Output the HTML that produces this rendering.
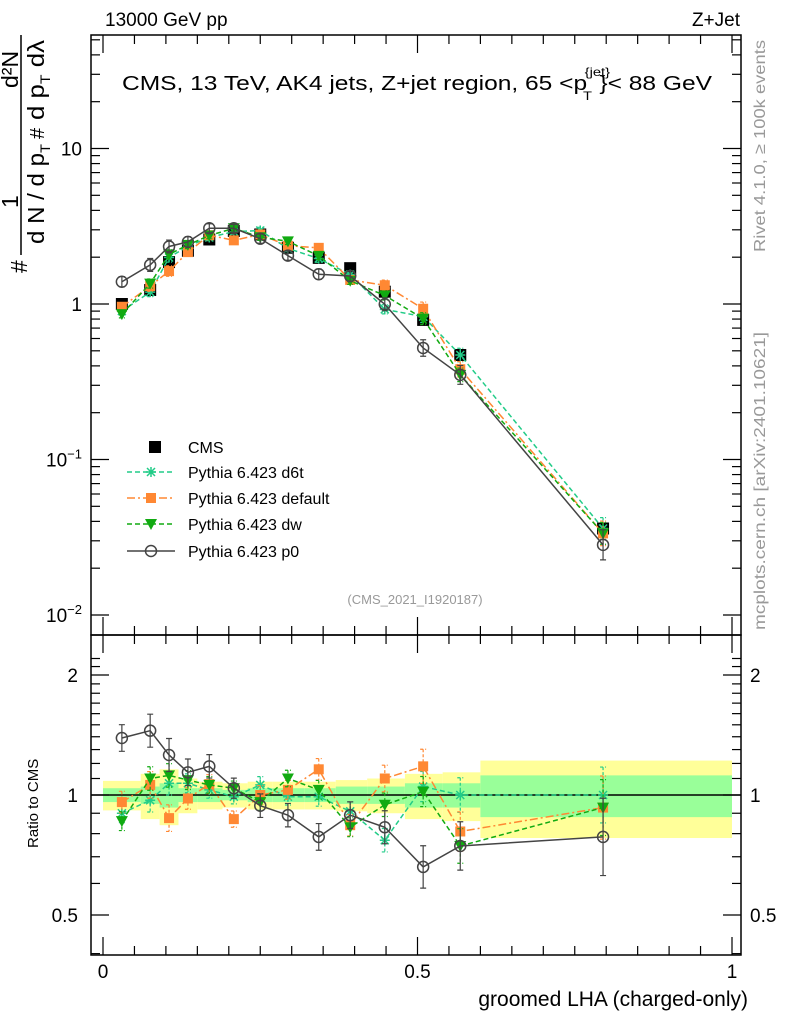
<!DOCTYPE html>
<html><head><meta charset="utf-8"><style>
body{margin:0;background:#fff;}
svg{display:block;font-family:"Liberation Sans",sans-serif;}
</style></head><body>
<svg id="chart" width="786" height="1024" viewBox="0 0 786 1024" xmlns="http://www.w3.org/2000/svg">
<g id="bands"></g>
<g id="grid"></g>
<g id="series"></g>
<g id="axes"></g>
<g id="labels">
<text x="105" y="26" font-size="19">13000 GeV pp</text>
<text x="740" y="26" font-size="19" text-anchor="end">Z+Jet</text>
<text x="122" y="90" font-size="20" textLength="590" lengthAdjust="spacingAndGlyphs">CMS, 13 TeV, AK4 jets, Z+jet region, 65 &lt;p<tspan font-size="12" dy="-14" dx="-2">{jet}</tspan><tspan font-size="12" dy="24" dx="-22">T</tspan><tspan dy="-10" dx="6">}&lt; 88 GeV</tspan></text>
<text x="415" y="604" font-size="13" fill="#999" text-anchor="middle">(CMS_2021_I1920187)</text>
<text transform="translate(765,252) rotate(-90)" font-size="16" fill="#999" textLength="212" lengthAdjust="spacingAndGlyphs">Rivet 4.1.0, ≥ 100k events</text>
<text transform="translate(765,630) rotate(-90)" font-size="16" fill="#999" textLength="298" lengthAdjust="spacingAndGlyphs">mcplots.cern.ch [arXiv:2401.10621]</text>
<g font-size="23">
<line x1="21" y1="255" x2="21" y2="35" stroke="#000" stroke-width="1.5"/>
<text transform="translate(27,273) rotate(-90)">#</text>
<text transform="translate(18,208) rotate(-90)">1</text>
<text transform="translate(44,244) rotate(-90)" textLength="100" lengthAdjust="spacingAndGlyphs">d N / d p<tspan font-size="14" dy="6">T</tspan></text>
<text transform="translate(44,139) rotate(-90)" font-size="20">#</text>
<text transform="translate(18,88) rotate(-90)">d²N</text>
<text transform="translate(44,120) rotate(-90)" textLength="80" lengthAdjust="spacingAndGlyphs">d p<tspan font-size="14" dy="6">T</tspan><tspan dy="-6"> dλ</tspan></text>
</g>
<text transform="translate(38,848) rotate(-90)" font-size="15">Ratio to CMS</text>
<text x="748" y="1006" font-size="21" text-anchor="end">groomed LHA (charged-only)</text>
</g>
<g id="legend"></g>
</svg>
<script>
const xEdges=[0,0.06,0.09,0.12,0.15,0.19,0.23,0.27,0.32,0.37,0.42,0.48,0.54,0.6,1.0];
const xMid=[0.03,0.075,0.105,0.135,0.169,0.208,0.25,0.294,0.343,0.393,0.448,0.509,0.568,0.795];
const cmsVals=[1.0,1.23,1.86,2.2,2.6,2.95,2.8,2.3,1.98,1.7,1.2,0.79,0.47,0.036];
const yellowErr=[0.085,0.13,0.16,0.1,0.08,0.07,0.08,0.08,0.08,0.09,0.1,0.13,0.14,0.22];
const greenErr=[0.04,0.05,0.07,0.04,0.04,0.03,0.04,0.04,0.04,0.05,0.05,0.07,0.07,0.12];
const ratioD6t=[0.9,0.97,1.07,1.07,1.03,0.99,1.06,0.99,0.99,0.91,0.77,1.05,1.0,1.0];
const ratioDefault=[0.96,1.06,0.875,0.98,1.065,0.87,1.0,1.03,1.16,0.84,1.1,1.18,0.81,0.93];
const ratioDw=[0.86,1.1,1.12,1.09,1.06,1.04,0.96,1.1,1.03,0.83,0.945,1.02,0.745,0.93];
const ratioP0=[1.39,1.45,1.26,1.14,1.18,1.04,0.94,0.89,0.785,0.89,0.83,0.66,0.745,0.785];
const relErr=[0.08,0.1,0.1,0.08,0.07,0.06,0.07,0.07,0.08,0.08,0.1,0.13,0.15,0.25];
const yTickLabels=["10","1","10⁻¹","10⁻²"];
const rTickLabels=["2","1","0.5"];
const xTickLabels=["0","0.5","1"];

const NS="http://www.w3.org/2000/svg";
const L=91,R=741,T=35,B=635,RB=955;
const X=v=>103+v*629;
const Y=v=>304-Math.log10(v)*155.5;
const RY=v=>795-Math.log2(v)*120;
function mk(tag,at,parent){const e=document.createElementNS(NS,tag);for(const k in at)e.setAttribute(k,at[k]);parent.appendChild(e);return e;}
const gB=document.getElementById('bands'),gS=document.getElementById('series'),gA=document.getElementById('axes'),gL=document.getElementById('legend');

for(let i=0;i<xMid.length;i++){
  const x0=X(xEdges[i]),x1=X(xEdges[i+1]);
  const y=mk('rect',{x:x0,y:RY(1+yellowErr[i]),width:x1-x0,height:RY(1-yellowErr[i])-RY(1+yellowErr[i]),fill:'#ffff99'},gB);
  
  
  const g=mk('rect',{x:x0,y:RY(1+greenErr[i]),width:x1-x0,height:RY(1-greenErr[i])-RY(1+greenErr[i]),fill:'#99ff99'},gB);
  
  
}
mk('line',{x1:L,x2:R,y1:RY(1),y2:RY(1),stroke:'#000','stroke-width':1.5},gB);

const models=[
 {name:'d6t',label:'Pythia 6.423 d6t',r:ratioD6t,col:'#22cc88',dash:'5,3',mk:'star',ef:0.7},
 {name:'default',label:'Pythia 6.423 default',r:ratioDefault,col:'#ff8833',dash:'8,3,2,3',mk:'sq',ef:0.8},
 {name:'dw',label:'Pythia 6.423 dw',r:ratioDw,col:'#11aa11',dash:'5,3',mk:'tri',ef:0.7},
 {name:'p0',label:'Pythia 6.423 p0',r:ratioP0,col:'#444',dash:'',mk:'circ',ef:1}
];
function marker(type,x,y,col,parent){
  if(type==='sq')return mk('rect',{x:x-5,y:y-5,width:10,height:10,fill:col},parent);
  if(type==='tri')return mk('path',{d:`M${x-6},${y-5}L${x+6},${y-5}L${x},${y+6}Z`,fill:col},parent);
  if(type==='circ')return mk('circle',{cx:x,cy:y,r:5.5,fill:'none',stroke:col,'stroke-width':1.5},parent);
  if(type==='star')return mk('path',{d:`M${x-5},${y}H${x+5}M${x},${y-5}V${y+5}M${x-4},${y-4}L${x+4},${y+4}M${x-4},${y+4}L${x+4},${y-4}`,stroke:col,'stroke-width':1.5},parent);
  if(type==='cms')return mk('rect',{x:x-6,y:y-6,width:12,height:12,fill:'#000'},parent);
}
const gc=mk('g',{},gS);


cmsVals.forEach((v,i)=>{const m=marker('cms',X(xMid[i]),Y(v),'#000',gc);

});

models.forEach(md=>{
  const g=mk('g',{},gS);
  
  
  const mainPts=md.r.map((r,i)=>[X(xMid[i]),Y(r*cmsVals[i])]);
  const ratPts=md.r.map((r,i)=>[X(xMid[i]),RY(r)]);
  [mainPts,ratPts].forEach((pts,k)=>{
    mk('polyline',{points:pts.map(p=>p.join(',')).join(' '),fill:'none',stroke:md.col,'stroke-width':1.5,'stroke-dasharray':md.dash},g);
    md.r.forEach((r,i)=>{
      const e=relErr[i]*md.ef;
      const val=k===0?r*cmsVals[i]:r;
      const f=k===0?Y:RY;
      const x=pts[i][0],y1=f(val*(1+e)),y2=f(val/(1+e));
      mk('path',{d:`M${x},${y1}V${y2}M${x-3},${y1}H${x+3}M${x-3},${y2}H${x+3}`,stroke:md.col,'stroke-width':1.2,'stroke-dasharray':md.dash?'3,2':''},g);
      const m=marker(md.mk,x,pts[i][1],md.col,g);
      
      
    });
  });
});

const legY=[447,472,498,524,551];
marker('cms',155,legY[0],'#000',gL);
const lt=mk('text',{x:188,y:legY[0]+6,'font-size':16},gL);lt.textContent='CMS';


models.forEach((md,i)=>{
  const y=legY[i+1];
  mk('line',{x1:127,x2:175,y1:y,y2:y,stroke:md.col,'stroke-width':1.5,'stroke-dasharray':md.dash},gL);
  marker(md.mk,151,y,md.col,gL);
  const t=mk('text',{x:188,y:y+6,'font-size':16},gL);t.textContent=md.label;
  
  
});

mk('rect',{x:L,y:T,width:R-L,height:B-T,fill:'none',stroke:'#000','stroke-width':1.5},gA);
mk('rect',{x:L,y:B,width:R-L,height:RB-B,fill:'none',stroke:'#000','stroke-width':1.5},gA);
for(let d=-2;d<=1;d++){
  for(let m=1;m<10;m++){
    const v=m*Math.pow(10,d);const y=Y(v);
    if(y<T||y>B)continue;
    const len=m===1?18:9;
    mk('line',{x1:L,x2:L+len,y1:y,y2:y,stroke:'#000','stroke-width':1.2},gA);
    mk('line',{x1:R,x2:R-len,y1:y,y2:y,stroke:'#000','stroke-width':1.2},gA);
  }
}
[10,1,0.1,0.01].forEach((v,i)=>{
  const t=mk('text',{x:82,y:Y(v)+7,'font-size':19,'text-anchor':'end'},gA);
  if(i<2)t.textContent=yTickLabels[i];
  else{t.textContent='10';const s=mk('tspan',{'font-size':13,dy:-8},t);s.textContent=i===2?'−1':'−2';}
  
  
});
for(let v=0.4;v<=2.3;v+=0.1){
  const y=RY(v);if(y<B||y>RB)continue;
  const major=Math.abs(v-1)<0.01||Math.abs(v-2)<0.01||Math.abs(v-0.5)<0.01;
  const len=major?18:9;
  mk('line',{x1:L,x2:L+len,y1:y,y2:y,stroke:'#000','stroke-width':1.2},gA);
  mk('line',{x1:R,x2:R-len,y1:y,y2:y,stroke:'#000','stroke-width':1.2},gA);
}
[2,1,0.5].forEach((v,i)=>{
  const a=mk('text',{x:78,y:RY(v)+7,'font-size':19,'text-anchor':'end'},gA);a.textContent=rTickLabels[i];
  
  
  const b=mk('text',{x:750,y:RY(v)+7,'font-size':19},gA);b.textContent=rTickLabels[i];
  
  
});
for(let v=0;v<=1.0001;v+=0.05){
  const x=X(v);const major=Math.abs(v*2-Math.round(v*2))<0.01;const len=major?18:9;
  [[T,1],[B,-1],[B,1],[RB,-1]].forEach(([y0,s])=>mk('line',{x1:x,x2:x,y1:y0,y2:y0+s*len,stroke:'#000','stroke-width':1.2},gA));
}
[0,0.5,1].forEach((v,i)=>{
  const t=mk('text',{x:X(v),y:978,'font-size':19,'text-anchor':'middle'},gA);t.textContent=xTickLabels[i];
  
  
});
</script>
</body></html>
